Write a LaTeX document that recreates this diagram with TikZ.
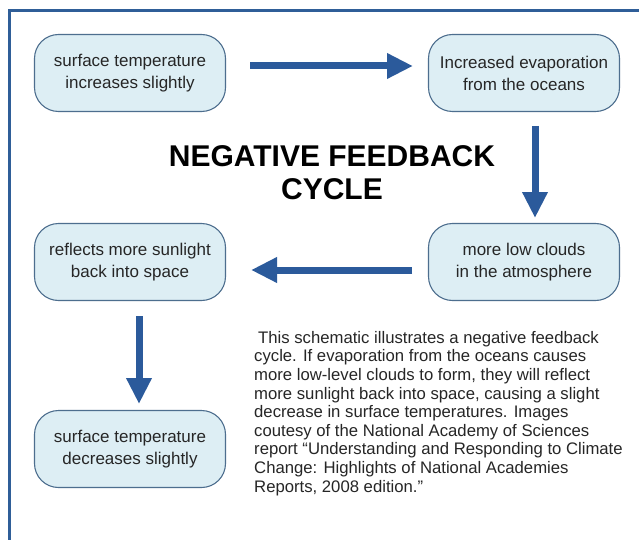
\documentclass[tikz,border=0pt]{standalone}
\usepackage{fontspec}
\setmainfont{Liberation Sans}
\usetikzlibrary{arrows.meta}
\definecolor{boxfill}{HTML}{DDEEF4}
\definecolor{boxline}{HTML}{4D6E8E}
\definecolor{arrowblue}{HTML}{2B5A9B}
\definecolor{framecol}{HTML}{2F5E98}
\definecolor{textgray}{HTML}{262626}
\tikzset{
  cyclebox/.style={draw=boxline, line width=1.1pt, fill=boxfill, rounded corners=24pt,
    minimum width=191pt, minimum height=77pt, align=center, text=textgray,
    font=\fontsize{17}{22}\selectfont},
  bigarrow/.style={draw=arrowblue, line width=7pt, -{Triangle[width=24pt,length=26pt]}},
}
\begin{document}
\begin{tikzpicture}[x=1pt,y=-1pt]
\useasboundingbox (0,0) rectangle (639,540);
\fill[white] (0,0) rectangle (639,540);
\begin{scope}
\clip (0,0) rectangle (639,540);
\draw[framecol, line width=3pt] (9.5,11) rectangle (660,580);
\end{scope}
\node[cyclebox] (a) at (130,73) {surface temperature\\increases slightly};
\node[cyclebox] (b) at (524,73) {Increased evaporation\\from the oceans};
\node[cyclebox] (c) at (524,262) {more low clouds\\in the atmosphere};
\node[cyclebox] (d) at (130,262) {reflects more sunlight\\back into space};
\node[cyclebox] (e) at (130,449) {surface temperature\\decreases slightly};
\node[font=\fontsize{30}{33}\selectfont\bfseries, align=center, text=black] (title) at (332,173) {NEGATIVE FEEDBACK\\CYCLE};
\coordinate (abS) at (250,66);
\coordinate (abE) at (413,66);
\coordinate (bcS) at (535,126);
\coordinate (bcE) at (535,218);
\coordinate (cdS) at (412,270);
\coordinate (cdE) at (251,270);
\coordinate (deS) at (139,316);
\coordinate (deE) at (139,404);
\draw[bigarrow] (abS) -- (abE);
\draw[bigarrow] (bcS) -- (bcE);
\draw[bigarrow] (cdS) -- (cdE);
\draw[bigarrow] (deS) -- (deE);
\node[anchor=north west, align=left, inner sep=0pt, text=textgray,
  font=\fontsize{16.7}{18.6}\selectfont] (para) at (254,331)
{\hspace{4pt}This schematic illustrates a negative feedback\\
cycle. If evaporation from the oceans causes\\
more low-level clouds to form, they will reflect\\
more sunlight back into space, causing a slight\\
decrease in surface temperatures. Images\\
coutesy of the National Academy of Sciences\\
report \textquotedblleft Understanding and Responding to Climate\\
Change: Highlights of National Academies\\
Reports, 2008 edition.\textquotedblright};
\end{tikzpicture}
\end{document}
